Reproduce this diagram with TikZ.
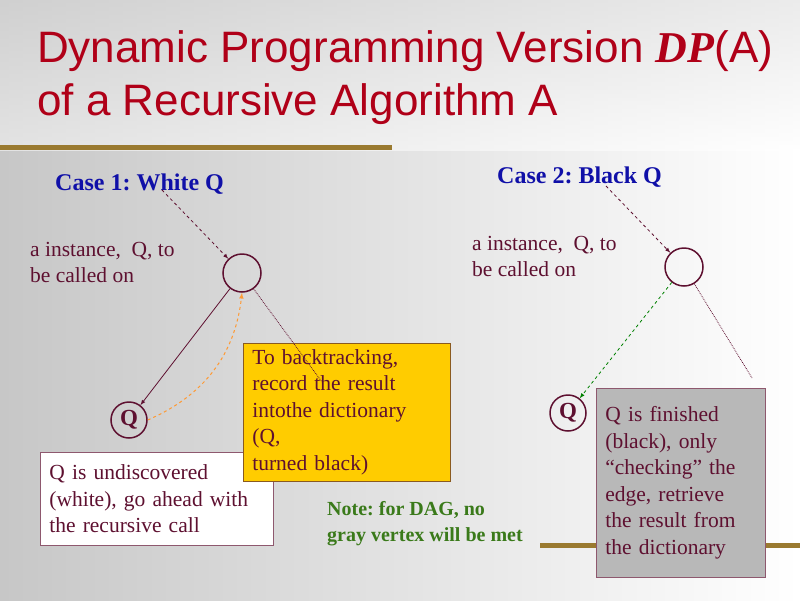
\documentclass[tikz,border=0pt]{standalone}
\usepackage{fontspec}
\setmainfont{Liberation Serif}
\newfontfamily\titlefont{Liberation Sans}
\frenchspacing
\begin{document}
\begin{tikzpicture}[x=1pt,y=-1pt,
  every node/.style={inner sep=0pt},
  vtx/.style={circle,draw=maroon,line width=1.5pt,minimum size=38pt},
  body/.style={font=\fontsize{21.5}{26.5}\selectfont,text=maroon,align=left},
  case/.style={font=\fontsize{24}{26}\selectfont\bfseries,text=caseblue,anchor=west},
  box/.style={draw=boxedge,line width=0.7pt,anchor=north west,inner xsep=9pt,inner ysep=6pt,body}]
\definecolor{maroon}{HTML}{5E1030}
\definecolor{caseblue}{HTML}{1010A8}
\definecolor{titlered}{HTML}{B00018}
\definecolor{boxedge}{HTML}{8A5A20}
\definecolor{stripe}{HTML}{9A7A30}
\definecolor{notegreen}{HTML}{3A7A1A}
\shade[left color=black!22,right color=white] (0,0) rectangle (800,600);
\shade[top color=black!15,bottom color=white,opacity=0.5] (0,0) rectangle (800,150);
\useasboundingbox (0,0) rectangle (800,600);
\fill[stripe] (0,145) rectangle (392,150);
\fill[stripe] (540,543) rectangle (800,548);
\node[anchor=base west,text=titlered,font=\titlefont\fontsize{44}{46}\selectfont] (t1) at (37,62) {Dynamic Programming Version \textit{\textbf{\textrm{DP}}}(A)};
\node[anchor=base west,text=titlered,font=\titlefont\fontsize{44}{46}\selectfont] (t2) at (37,115) {of a Recursive Algorithm A};
\node[case] (c1) at (55,184) {Case 1: White Q};
\node[case] (c2) at (497,177) {Case 2: Black Q};
\node[body,anchor=north west] (i1) at (30,242) {a instance,\ \ Q, to\\be called on};
\node[body,anchor=north west] (i2) at (472,236) {a instance,\ \ Q, to\\be called on};
\node[vtx] (v1) at (242,273) {};
\node[vtx,minimum size=36pt,font=\fontsize{23}{24}\selectfont\bfseries,text=maroon] (q1) at (129,420) {Q};
\node[vtx] (v2) at (684,267) {};
\node[vtx,minimum size=36pt,font=\fontsize{23}{24}\selectfont\bfseries,text=maroon] (q2) at (568,413) {Q};
\node[box,fill=white,draw=maroon!70,text width=215pt,minimum height=93pt] (wb) at (40,452) {Q is undiscovered\\(white), go ahead with\\the recursive call};
\node[box,fill={rgb,255:red,255;green,204;blue,0},text width=189pt,minimum height=116pt] (yb) at (243,343) {To backtracking,\\record the result\\intothe dictionary (Q,\\turned black)};
\node[box,fill=black!28,draw=maroon!70,text width=151pt,minimum height=189pt] (gb) at (596,388) {Q is finished\\(black), only\\“checking” the\\edge, retrieve\\the result from\\the dictionary};
\node[anchor=north west,align=left,text=notegreen,font=\fontsize{20}{26}\selectfont\bfseries] (note) at (327,501) {Note: for DAG, no\\gray vertex will be met};
\coordinate (e1) at (322,382);
\coordinate (e2) at (752,378);
\coordinate (s1) at (162,190);
\coordinate (s2) at (606,186);
\draw[maroon,dashed,line width=0.8pt,-latex] (s1) -- (v1);
\draw[maroon,dashed,line width=0.8pt,-latex] (s2) -- (v2);
\draw[maroon,line width=0.8pt,-latex] (v1) -- (q1);
\draw[orange!80,dashed,line width=1pt,-latex] (q1.east) to[bend right=30] (v1.south);
\draw[maroon,densely dotted,line width=0.8pt] (v1) -- (e1);
\draw[maroon,densely dotted,line width=0.8pt] (v2) -- (e2);
\draw[green!50!black,dashed,line width=0.8pt,-latex] (v2) -- (q2);
\end{tikzpicture}
\end{document}
